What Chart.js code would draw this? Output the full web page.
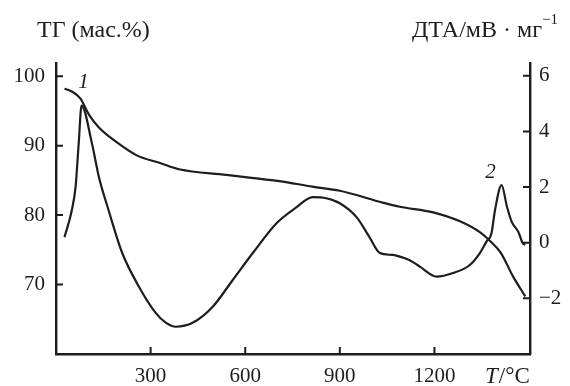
<!DOCTYPE html>
<html>
<head>
<meta charset="utf-8">
<script src="https://cdn.jsdelivr.net/npm/chart.js@4.4.1/dist/chart.umd.min.js"></script>
<style>
  html, body { margin: 0; padding: 0; background: #fff; }
  canvas { display: block; }
</style>
</head>
<body>
<canvas id="tgChart" width="570" height="386"></canvas>
<script>
/*************************************************
 * DATA
 *************************************************/

// Curve 1: TG (mass %), left axis
const tgTemp = [27, 50, 77, 104, 136, 189, 256, 330, 390, 540, 613, 708, 813, 900, 1036, 1090, 1196, 1281, 1345, 1378, 1410, 1450, 1488];
const tgMass = [98.2, 97.8, 96.8, 94.5, 92.6, 90.6, 88.6, 87.5, 86.6, 85.8, 85.4, 84.9, 84.1, 83.5, 81.8, 81.2, 80.4, 79.1, 77.5, 76.2, 74.6, 71.1, 68.3];

// Curve 2: DTA (mV/mg), right axis
const dtaTemp = [27, 50, 62, 72, 81, 114, 136, 167, 210, 263, 316, 349, 380, 433, 497, 561, 624, 700, 762, 814, 857, 900, 953, 994, 1027, 1068, 1090, 1120, 1154, 1191, 1207, 1259, 1312, 1344, 1365, 1381, 1392, 1413, 1430, 1445, 1466, 1480, 1488];
const dtaVal  = [0.2, 1.16, 2.0, 3.57, 4.93, 3.57, 2.36, 1.16, -0.37, -1.58, -2.52, -2.88, -3.02, -2.88, -2.3, -1.33, -0.37, 0.71, 1.27, 1.64, 1.6, 1.42, 0.92, 0.2, -0.37, -0.44, -0.5, -0.62, -0.86, -1.16, -1.22, -1.09, -0.8, -0.37, 0.04, 0.34, 1.17, 2.07, 1.29, 0.75, 0.39, -0.02, -0.08];

// Tick labels
const xTicks = [300, 600, 900, 1200];
const tgTicks = [70, 80, 90, 100];
const dtaTicks = [-2, 0, 2, 4, 6];

const ink = "#1d1d1b";
const serif = "'Liberation Serif', 'Times New Roman', serif";


/*************************************************
 * INWARD TICKS + TEXT
 *************************************************/
const decorPlugin = {
  id: "decor",
  afterDraw(chart) {
    const ctx = chart.ctx;
    const { x, y, y1 } = chart.scales;
    const area = chart.chartArea;
    const len = 7;

    ctx.save();
    ctx.strokeStyle = ink;
    ctx.lineWidth = 2;
    ctx.beginPath();
    xTicks.forEach(v => {
      const px = x.getPixelForValue(v);
      ctx.moveTo(px, area.bottom);
      ctx.lineTo(px, area.bottom - len);
    });
    tgTicks.forEach(v => {
      const py = y.getPixelForValue(v);
      ctx.moveTo(area.left, py);
      ctx.lineTo(area.left + len, py);
    });
    dtaTicks.forEach(v => {
      const py = y1.getPixelForValue(v);
      ctx.moveTo(area.right, py);
      ctx.lineTo(area.right - len, py);
    });
    ctx.stroke();

    ctx.fillStyle = ink;
    ctx.textBaseline = "alphabetic";

    // axis titles
    ctx.textAlign = "left";
    ctx.font = `24px ${serif}`;
    ctx.fillText("ТГ (мас.%)", 37, 37);

    const dtaText = "ДТА/мВ · мг";
    ctx.fillText(dtaText, 412, 37);
    const w = ctx.measureText(dtaText).width;
    ctx.font = `15px ${serif}`;
    ctx.fillText("\u22121", 412 + w, 24);

    ctx.font = `italic 23px ${serif}`;
    ctx.fillText("T", 485, 383);
    const tw = ctx.measureText("T").width;
    ctx.font = `23px ${serif}`;
    ctx.fillText("/°C", 485 + tw + 1, 383);

    // curve numbers
    ctx.font = `italic 21px ${serif}`;
    ctx.textAlign = "center";
    ctx.fillText("1", x.getPixelForValue(81) + 2, y1.getPixelForValue(4.93) - 18);
    ctx.fillText("2", x.getPixelForValue(1413) - 11, y1.getPixelForValue(2.07) - 7);

    ctx.restore();
  }
};


/*************************************************
 * CHART
 *************************************************/
const tickFont = { family: serif, size: 21 };

new Chart(document.getElementById("tgChart").getContext("2d"), {
  type: "line",
  data: {
    datasets: [
      {
        label: "ТГ",
        data: tgTemp.map((t, i) => ({ x: t, y: tgMass[i] })),
        yAxisID: "y",
        borderColor: ink,
        borderWidth: 2.2,
        pointRadius: 0,
        cubicInterpolationMode: "monotone"
      },
      {
        label: "ДТА",
        data: dtaTemp.map((t, i) => ({ x: t, y: dtaVal[i] })),
        yAxisID: "y1",
        borderColor: ink,
        borderWidth: 2.2,
        pointRadius: 0,
        cubicInterpolationMode: "monotone"
      }
    ]
  },
  options: {
    responsive: false,
    animation: false,
    layout: { padding: { top: 63, left: 0, right: 0, bottom: 0 } },
    plugins: {
      legend: { display: false },
      tooltip: { enabled: false }
    },
    scales: {
      x: {
        type: "linear",
        min: 0,
        max: 1503,
        afterBuildTicks: s => { s.ticks = xTicks.map(v => ({ value: v })); },
        afterFit: s => { s.height = 32; },
        grid: { display: false, drawTicks: false },
        border: { display: true, color: ink, width: 2.4 },
        ticks: { font: tickFont, color: ink, padding: 10, maxRotation: 0, callback: v => String(v) }
      },
      y: {
        position: "left",
        min: 60,
        max: 101.9,
        afterBuildTicks: s => { s.ticks = tgTicks.map(v => ({ value: v })); },
        afterFit: s => { s.width = 56; },
        grid: { display: false, drawTicks: false },
        border: { display: true, color: ink, width: 2.4 },
        ticks: { font: tickFont, color: ink, padding: 11 }
      },
      y1: {
        position: "right",
        min: -4,
        max: 6.46,
        afterBuildTicks: s => { s.ticks = dtaTicks.map(v => ({ value: v })); },
        afterFit: s => { s.width = 40; },
        grid: { display: false, drawTicks: false },
        border: { display: true, color: ink, width: 2.4 },
        ticks: {
          font: tickFont,
          color: ink,
          padding: 9,
          callback: v => (v < 0 ? "\u2212" + Math.abs(v) : String(v))
        }
      }
    }
  },
  plugins: [decorPlugin]
});
</script>
</body>
</html>
